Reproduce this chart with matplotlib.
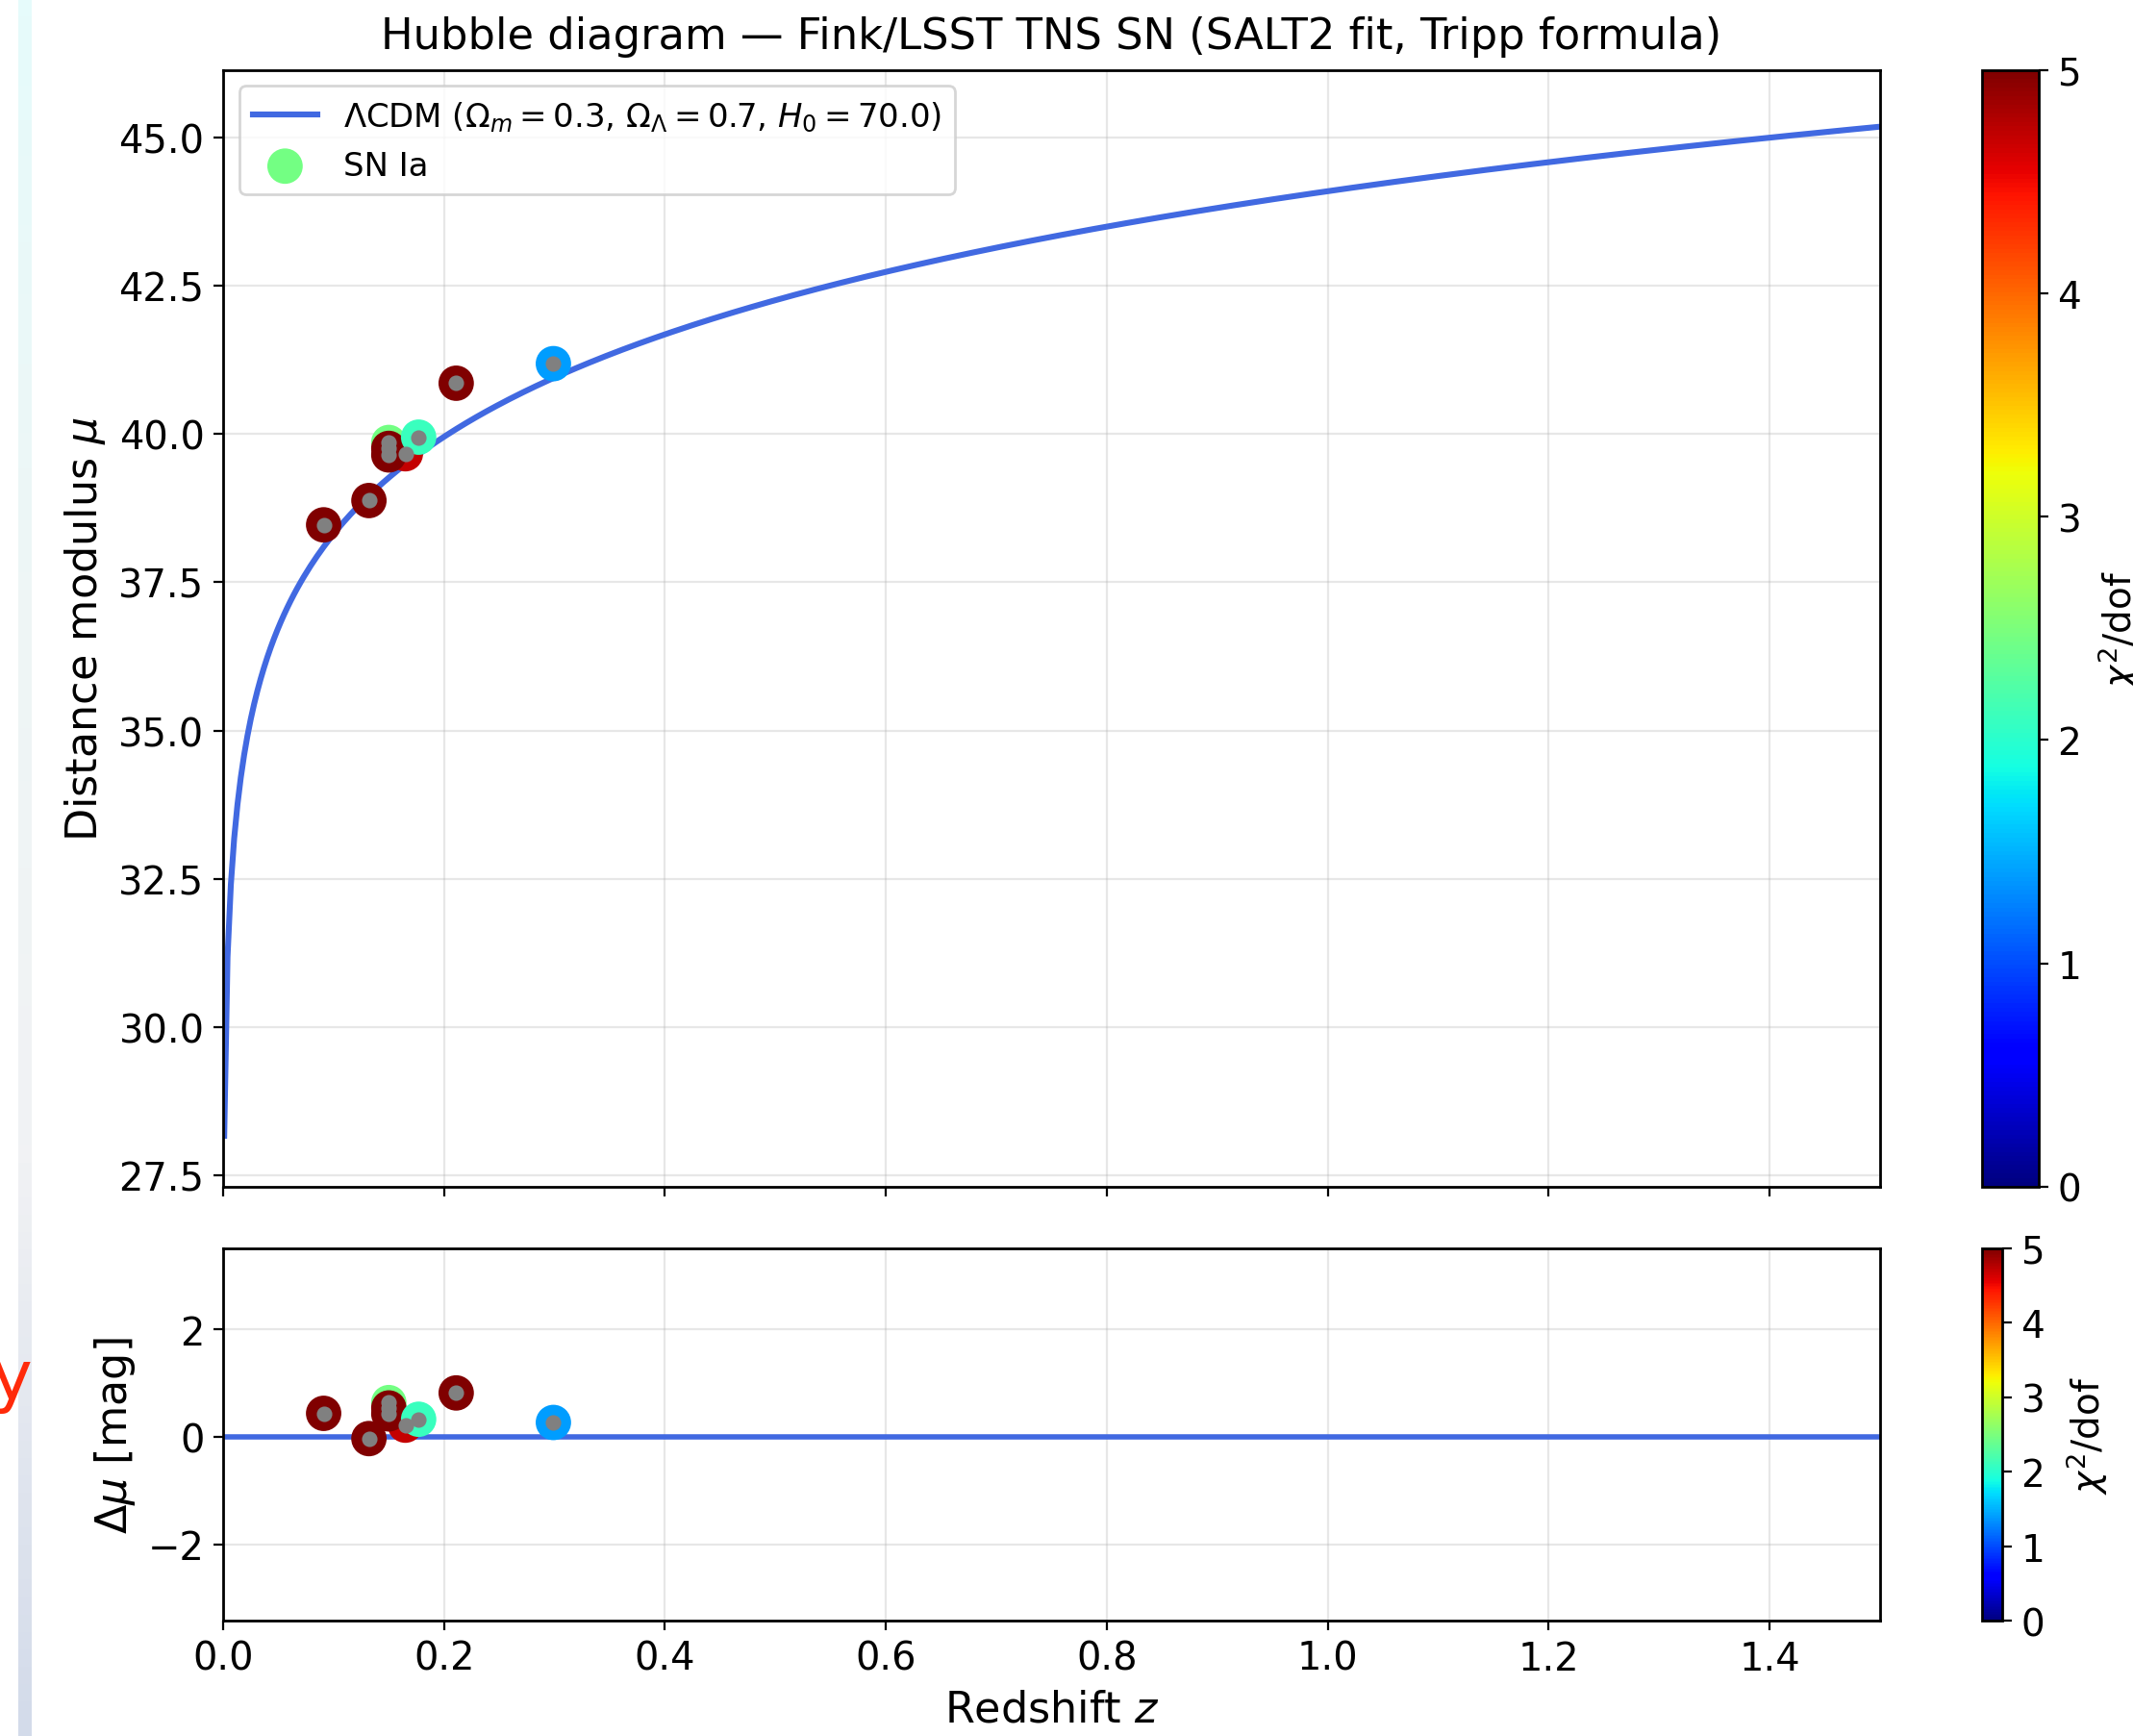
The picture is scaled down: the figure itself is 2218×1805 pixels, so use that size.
import numpy as np
import matplotlib
matplotlib.use("Agg")
import matplotlib.pyplot as plt
from matplotlib.colors import LinearSegmentedColormap

# SN Ia points (first one is the legend colour)
z_sn = [0.150, 0.091, 0.132, 0.165, 0.150, 0.150, 0.177, 0.211, 0.299]
mu_sn = [39.86, 38.47, 38.88, 39.67, 39.76, 39.65, 39.95, 40.86, 41.19]
dmu_sn = [0.64, 0.44, -0.03, 0.22, 0.54, 0.43, 0.33, 0.82, 0.27]
chi2_dof = [2.45, 6.3, 5.8, 4.7, 5.5, 7.1, 2.1, 5.9, 1.4]

# cosmology of the reference curve
Om = 0.3
OL = 0.7
H0 = 70.0
c_kms = 299792.458
z_min, z_max = 0.001, 1.5

cbar_ticks = [0, 1, 2, 3, 4, 5]
res_ticks = [-2, 0, 2]


def distance_modulus(z):
    zz = np.linspace(0, z.max(), 20000)
    inv_E = 1.0 / np.sqrt(Om * (1 + zz) ** 3 + OL)
    dc = np.concatenate([[0.0], np.cumsum(0.5 * (inv_E[1:] + inv_E[:-1]) * np.diff(zz))])
    dl = (1 + z) * np.interp(z, zz, dc) * c_kms / H0  # Mpc
    return 5 * np.log10(dl * 1e6 / 10)


z_model = np.linspace(z_min, z_max, 500)
mu_model = distance_modulus(z_model)

plt.rcParams['axes.linewidth'] = 1.0
fig = plt.figure(figsize=(11.09, 9.03), dpi=200)

# page artefacts on the left edge of the screenshot
strip = fig.add_axes([0.0086, 0.0, 0.0063, 1.0])
strip_cmap = LinearSegmentedColormap.from_list('strip', ['#e6fbfb', '#eef6f6', '#f1f2f4', '#d3dbea'])
strip.imshow(np.linspace(0, 1, 100).reshape(-1, 1), aspect='auto', cmap=strip_cmap)
strip.axis('off')
fig.text(-0.004, 0.205, 'y', color='#ff2a0a', fontsize=26, ha='left', va='center')

ax = fig.add_axes([0.1046, 0.3162, 0.7768, 0.6431])
ax_res = fig.add_axes([0.1046, 0.0664, 0.7768, 0.2146], sharex=ax)
cax = fig.add_axes([0.9291, 0.3162, 0.0267, 0.6431])
cax_res = fig.add_axes([0.9291, 0.0664, 0.0095, 0.2146])

label = (r'$\Lambda$CDM ($\Omega_m = %.1f$, $\Omega_\Lambda = %.1f$, $H_0 = %.1f$)'
         % (Om, OL, H0))

# main panel
ax.plot(z_model, mu_model, color='royalblue', lw=2.2, label=label, zorder=2)
sc = ax.scatter(z_sn, mu_sn, c=chi2_dof, cmap='jet', vmin=0, vmax=5, s=150,
                label='SN Ia', zorder=3)
ax.errorbar(z_sn, mu_sn, fmt='o', color='gray', ms=4.8, zorder=4)
ax.set_ylim(27.3, 46.15)
ax.set_xlim(0, 1.5)
ax.set_ylabel(r'Distance modulus $\mu$', fontsize=16)
ax.set_title('Hubble diagram — Fink/LSST TNS SN (SALT2 fit, Tripp formula)', fontsize=16.1, pad=8)
ax.grid(True, alpha=0.3)
ax.tick_params(labelsize=14.4, labelbottom=False)
ax.legend(loc='upper left', fontsize=12.2)

# residuals
ax_res.axhline(0, color='royalblue', lw=2, zorder=2)
sc_res = ax_res.scatter(z_sn, dmu_sn, c=chi2_dof, cmap='jet', vmin=0, vmax=5, s=150, zorder=3)
ax_res.errorbar(z_sn, dmu_sn, fmt='o', color='gray', ms=4.8, zorder=4)
ax_res.set_ylim(-3.42, 3.52)
ax_res.set_yticks(res_ticks)
ax_res.set_xlabel(r'Redshift $z$', fontsize=16)
ax_res.set_ylabel(r'$\Delta\mu$ [mag]', fontsize=16)
ax_res.grid(True, alpha=0.3)
ax_res.tick_params(labelsize=14.4)
ax_res.set_xlim(0, 1.5)

cb = fig.colorbar(sc, cax=cax, ticks=cbar_ticks)
cb.ax.tick_params(labelsize=14)
cb_res = fig.colorbar(sc_res, cax=cax_res, ticks=cbar_ticks)
cb_res.ax.tick_params(labelsize=14)
fig.text(0.9932, 0.6378, r'$\chi^2$/dof', rotation=90, ha='center', va='center', fontsize=14)
fig.text(0.9783, 0.1737, r'$\chi^2$/dof', rotation=90, ha='center', va='center', fontsize=14)

fig.savefig('out.png', dpi=200)
plt.close()
